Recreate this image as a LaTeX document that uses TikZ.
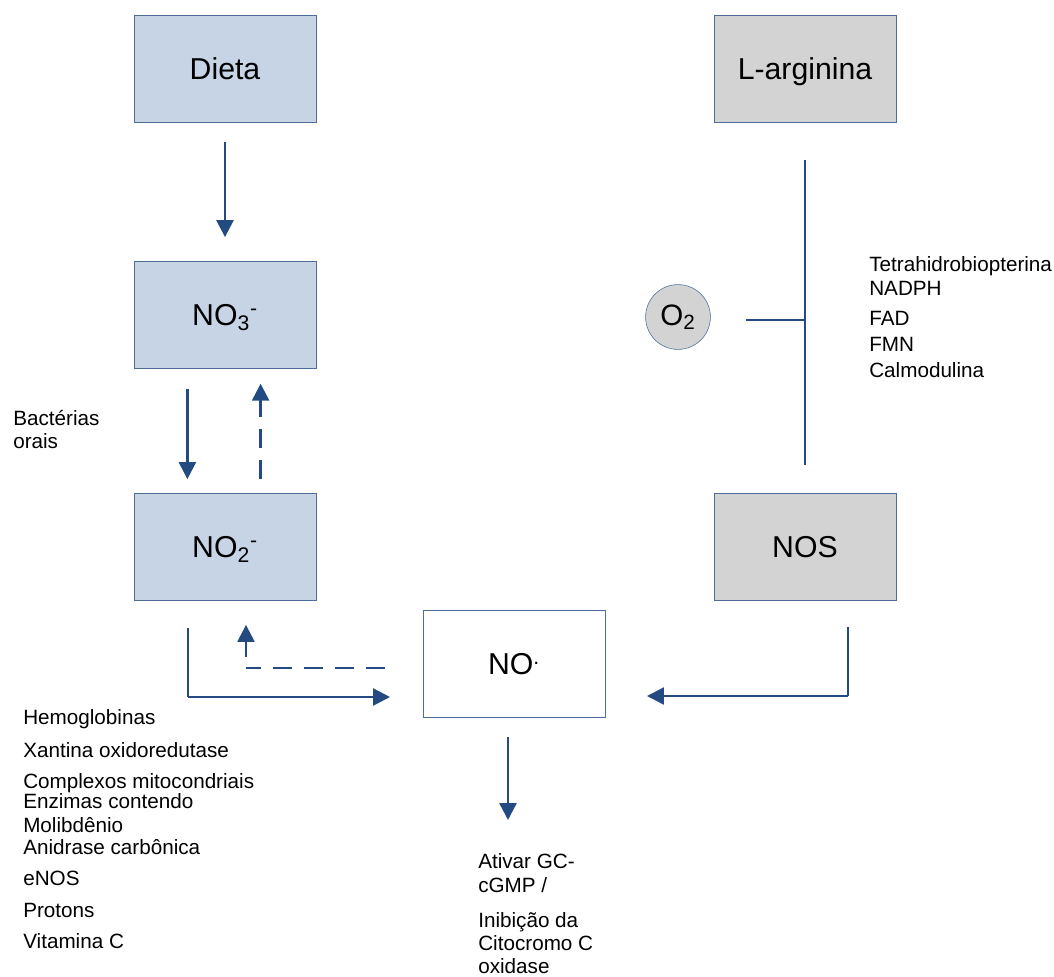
\documentclass[tikz,border=0pt]{standalone}
\usepackage{fontspec}
\setmainfont{Liberation Sans}
\usepackage{tikz}
\usetikzlibrary{shapes.geometric, arrows, arrows.meta}
\definecolor{boxblue}{RGB}{198,212,230}
\definecolor{boxgray}{RGB}{211,211,211}
\definecolor{edgeblue}{RGB}{79,109,154}
\definecolor{arrowblue}{RGB}{35,75,130}
\tikzstyle{source} = [rectangle, minimum width=4.55cm, minimum height=2.68cm, text height=17.2pt, text depth=1.7pt, text centered, draw=edgeblue, fill=boxblue, font=\fontsize{21.5}{26}\selectfont]
\tikzstyle{enzyme} = [source, fill=boxgray]
\tikzstyle{product} = [source, fill=white]
\tikzstyle{gas} = [circle, minimum size=1.62cm, inner sep=0pt, draw=edgeblue, fill=boxgray, font=\fontsize{21}{26}\selectfont]
\tikzstyle{note} = [anchor=base west, inner sep=0pt, font=\fontsize{14.7}{16}\selectfont]
\tikzstyle{arrow} = [line width=1.7pt, draw=arrowblue, ->, >={Triangle[width=12pt,length=12pt]}]
\tikzstyle{line} = [line width=1.7pt, draw=arrowblue]
\tikzstyle{dashline} = [line width=1.7pt, draw=arrowblue, dash pattern=on 13.5pt off 8.5pt]

\begin{document}
\begin{tikzpicture}[x=0.025cm, y=-0.025cm]
\useasboundingbox (0,0) rectangle (1054,976);

\node (diet) [source] at (225,69) {Dieta};
\node (nitrate) [source] at (225,315) {NO\textsubscript{3}\textsuperscript{-}};
\node (nitrite) [source] at (225,547) {NO\textsubscript{2}\textsuperscript{-}};
\node (arg) [enzyme] at (805,69) {L-arginina};
\node (nos) [enzyme] at (805,547) {NOS};
\node (no) [product] at (514,664) {NO\textsuperscript{.}};
\node (oxy) [gas] at (678,317) {O\textsubscript{2}};

\coordinate (c1) at (188,628);
\coordinate (c2) at (188,697);
\coordinate (c3) at (390,697);
\coordinate (c4) at (385,668);
\coordinate (c5) at (246,668);
\coordinate (c6) at (246,657);
\coordinate (c7) at (848,627);
\coordinate (c8) at (848,696);
\coordinate (c9) at (647,696);
\coordinate (j1) at (805,160);
\coordinate (j2) at (805,465);
\coordinate (j3) at (805,320);
\coordinate (j4) at (746,320);

\draw [arrow, shorten <=0.48cm, shorten >=0.6cm] (diet) -- (nitrate);
\draw [arrow, shorten <=0.5cm, shorten >=0.35cm] ([xshift=-0.94cm]nitrate.south) -- ([xshift=-0.94cm]nitrite.north);
\draw [dashline, ->, >={Triangle[width=12pt,length=12pt]}, shorten <=0.35cm, shorten >=0.37cm] ([xshift=0.89cm]nitrite.north) -- ([xshift=0.89cm]nitrate.south);
\draw [line] (c1) -- (c2);
\draw [arrow] (c2) -- (c3);
\draw [dashline] (c4) -- (c5);
\draw [arrow, shorten >=0.6cm] (c6) -- (nitrite.south -| c6);
\draw [line] (c7) -- (c8);
\draw [arrow] (c8) -- (c9);
\draw [arrow, shorten <=0.48cm] (no.south -| 508,0) -- (508,820);
\draw [line] (j1) -- (j2);
\draw [line] (j4) -- (j3);

\node (bact1) [note] at (13,425) {Bactérias};
\node (bact2) [note] at (13,448) {orais};

\node (cof1) [note] at (869,271) {Tetrahidrobiopterina};
\node (cof2) [note] at (869,295) {NADPH};
\node (cof3) [note] at (869,325) {FAD};
\node (cof4) [note] at (869,351) {FMN};
\node (cof5) [note] at (869,377) {Calmodulina};

\node (red1) [note] at (23,724) {Hemoglobinas};
\node (red2) [note] at (23,757) {Xantina oxidoredutase};
\node (red3) [note] at (23,788) {Complexos mitocondriais};
\node (red4) [note] at (23,808) {Enzimas contendo};
\node (red5) [note] at (23,832) {Molibdênio};
\node (red6) [note] at (23,854) {Anidrase carbônica};
\node (red7) [note] at (23,885) {eNOS};
\node (red8) [note] at (23,917) {Protons};
\node (red9) [note] at (23,948) {Vitamina C};

\node (eff1) [note] at (478,868) {Ativar GC-};
\node (eff2) [note] at (478,892) {cGMP /};
\node (eff3) [note] at (478,927) {Inibição da};
\node (eff4) [note] at (478,950) {Citocromo C};
\node (eff5) [note] at (478,973) {oxidase};
\end{tikzpicture}
\end{document}
